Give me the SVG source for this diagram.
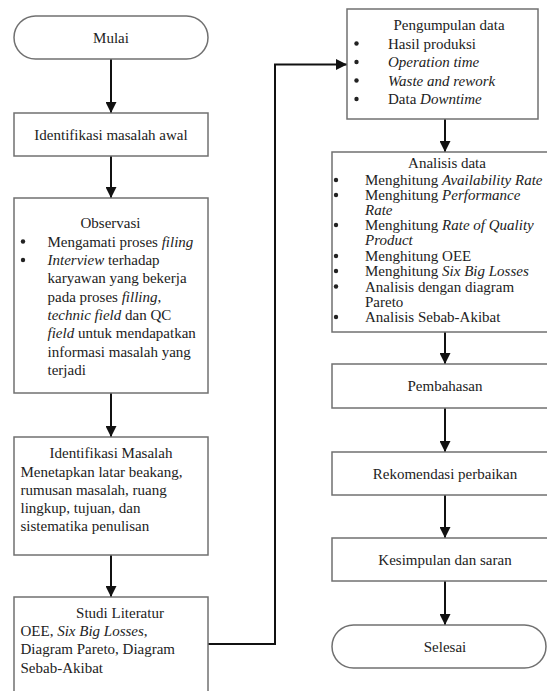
<svg xmlns="http://www.w3.org/2000/svg" width="547" height="691" viewBox="0 0 547 691">
<style>
.box{fill:#fff;stroke:#707070;stroke-width:1.5}
.t{font-family:'Liberation Serif',Tinos,'Times New Roman','DejaVu Serif',serif;font-size:15px;fill:#222}
.c{text-anchor:middle}
.i{font-style:italic}
.dot{fill:#222}
.con{fill:none;stroke:#111;stroke-width:2}
</style>
<defs>
<marker id="ah" markerUnits="userSpaceOnUse" markerWidth="11" markerHeight="11" refX="10" refY="5" orient="auto" viewBox="0 0 10 10">
<path d="M0,0 L10,5 L0,10 z" fill="#111"/>
</marker>
</defs>
<rect width="547" height="691" fill="#fff"/>
<g id="connectors">
<line class="con" x1="111" y1="59" x2="111" y2="113" marker-end="url(#ah)"/>
<line class="con" x1="111" y1="156" x2="111" y2="198" marker-end="url(#ah)"/>
<line class="con" x1="111" y1="393" x2="111" y2="437" marker-end="url(#ah)"/>
<line class="con" x1="111" y1="555" x2="111" y2="597" marker-end="url(#ah)"/>
<path class="con" d="M208,644 H275 V64.5 H347" marker-end="url(#ah)"/>
<line class="con" x1="445" y1="119" x2="445" y2="152" marker-end="url(#ah)"/>
<line class="con" x1="445" y1="332" x2="445" y2="364" marker-end="url(#ah)"/>
<line class="con" x1="445" y1="408" x2="445" y2="452" marker-end="url(#ah)"/>
<line class="con" x1="445" y1="495" x2="445" y2="538" marker-end="url(#ah)"/>
<line class="con" x1="445" y1="581" x2="445" y2="625" marker-end="url(#ah)"/>
</g>
<g id="mulai">
<rect class="box" x="14" y="16" width="194" height="43" rx="21.5"/>
<text class="t c" x="111" y="42.5">Mulai</text>
</g>
<g id="identifikasi-awal">
<rect class="box" x="14" y="113" width="194" height="43"/>
<text class="t c" x="111" y="139.5">Identifikasi masalah awal</text>
</g>
<g id="observasi">
<rect class="box" x="14" y="198" width="194" height="195"/>
<text class="t c" x="110.5" y="228">Observasi</text>
<circle class="dot" cx="23" cy="241.5" r="2.2"/>
<text class="t" x="47.5" y="246.5">Mengamati proses <tspan class="i">filing</tspan></text>
<circle class="dot" cx="23" cy="260" r="2.2"/>
<text class="t" x="47.5" y="265"><tspan class="i">Interview</tspan> terhadap</text>
<text class="t" x="47.5" y="283.3">karyawan yang bekerja</text>
<text class="t" x="47.5" y="301.6">pada proses <tspan class="i">filling</tspan>,</text>
<text class="t" x="47.5" y="320"><tspan class="i">technic field</tspan> dan QC</text>
<text class="t" x="47.5" y="338.3"><tspan class="i">field</tspan> untuk mendapatkan</text>
<text class="t" x="47.5" y="356.6">informasi masalah yang</text>
<text class="t" x="47.5" y="375">terjadi</text>
</g>
<g id="identifikasi-masalah">
<rect class="box" x="14" y="437" width="194" height="118"/>
<text class="t c" x="111" y="458">Identifikasi Masalah</text>
<text class="t" x="20.5" y="476.5">Menetapkan latar beakang,</text>
<text class="t" x="20.5" y="494.5">rumusan masalah, ruang</text>
<text class="t" x="20.5" y="512.5">lingkup, tujuan, dan</text>
<text class="t" x="20.5" y="530.5">sistematika penulisan</text>
</g>
<g id="studi-literatur">
<rect class="box" x="14" y="597" width="194" height="100"/>
<text class="t c" x="120" y="617.5">Studi Literatur</text>
<text class="t" x="20.5" y="636">OEE, <tspan class="i">Six Big Losses</tspan>,</text>
<text class="t" x="20.5" y="654.3">Diagram Pareto, Diagram</text>
<text class="t" x="20.5" y="672.6">Sebab-Akibat</text>
</g>
<g id="pengumpulan-data">
<rect class="box" x="347" y="9" width="191" height="110"/>
<text class="t c" x="449" y="30">Pengumpulan data</text>
<circle class="dot" cx="356.5" cy="43.5" r="2.2"/>
<text class="t" x="388" y="48.5">Hasil produksi</text>
<circle class="dot" cx="356.5" cy="62" r="2.2"/>
<text class="t i" x="388" y="67">Operation time</text>
<circle class="dot" cx="356.5" cy="80.5" r="2.2"/>
<text class="t i" x="388" y="85.5">Waste and rework</text>
<circle class="dot" cx="356.5" cy="99" r="2.2"/>
<text class="t" x="388" y="104">Data <tspan class="i">Downtime</tspan></text>
</g>
<g id="analisis-data">
<rect class="box" x="332" y="152" width="230" height="180"/>
<text class="t c" x="447" y="168">Analisis data</text>
<circle class="dot" cx="336" cy="180" r="2.2"/>
<text class="t" x="365" y="185">Menghitung <tspan class="i">Availability Rate</tspan></text>
<circle class="dot" cx="336" cy="195" r="2.2"/>
<text class="t" x="365" y="200">Menghitung <tspan class="i">Performance</tspan></text>
<text class="t i" x="365" y="214.5">Rate</text>
<circle class="dot" cx="336" cy="225" r="2.2"/>
<text class="t" x="365" y="230">Menghitung <tspan class="i">Rate of Quality</tspan></text>
<text class="t i" x="365" y="245">Product</text>
<circle class="dot" cx="336" cy="256" r="2.2"/>
<text class="t" x="365" y="261">Menghitung OEE</text>
<circle class="dot" cx="336" cy="271" r="2.2"/>
<text class="t" x="365" y="276">Menghitung <tspan class="i">Six Big Losses</tspan></text>
<circle class="dot" cx="336" cy="286.5" r="2.2"/>
<text class="t" x="365" y="291.5">Analisis dengan diagram</text>
<text class="t" x="365" y="307">Pareto</text>
<circle class="dot" cx="336" cy="317" r="2.2"/>
<text class="t" x="365" y="322">Analisis Sebab-Akibat</text>
</g>
<g id="pembahasan">
<rect class="box" x="332" y="364" width="230" height="44"/>
<text class="t c" x="445" y="391">Pembahasan</text>
</g>
<g id="rekomendasi">
<rect class="box" x="332" y="452" width="230" height="43"/>
<text class="t c" x="445" y="478.5">Rekomendasi perbaikan</text>
</g>
<g id="kesimpulan">
<rect class="box" x="332" y="538" width="230" height="43"/>
<text class="t c" x="445" y="564.5">Kesimpulan dan saran</text>
</g>
<g id="selesai">
<rect class="box" x="332" y="625" width="214" height="43" rx="21.5"/>
<text class="t c" x="445" y="651.5">Selesai</text>
</g>
</svg>
